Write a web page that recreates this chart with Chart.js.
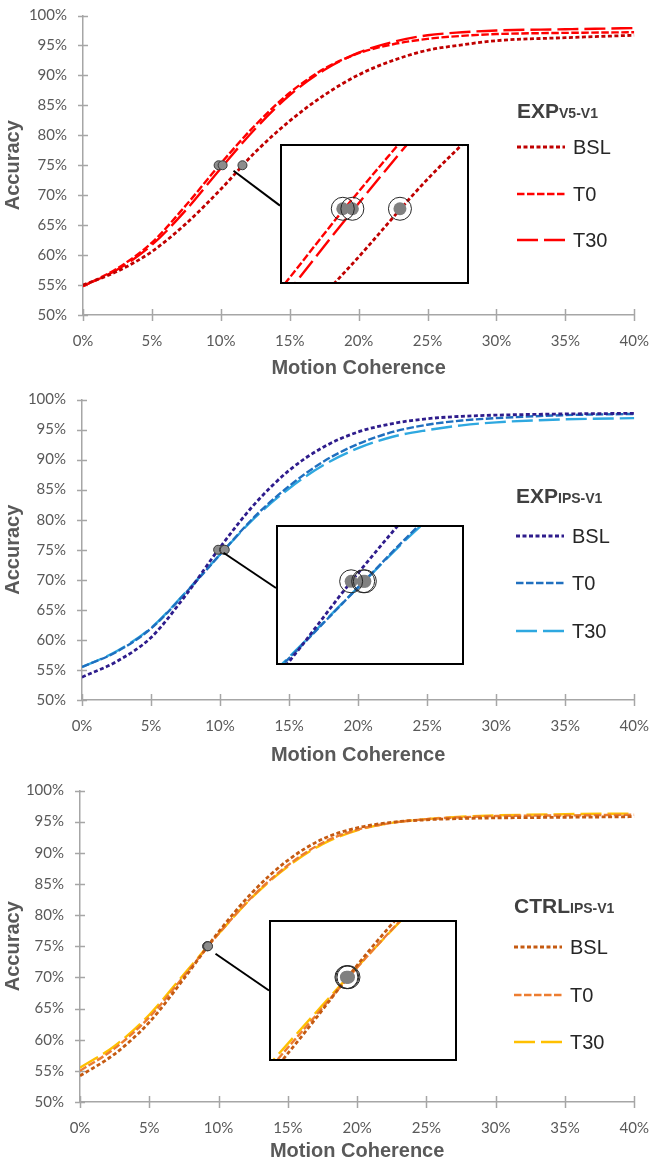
<!DOCTYPE html>
<html>
<head>
<meta charset="utf-8">
<script src="https://cdn.jsdelivr.net/npm/chart.js@4.4.1/dist/chart.umd.min.js"></script>
<style>
  html, body { margin: 0; padding: 0; background: #fff; }
  #page { position: relative; width: 660px; height: 1161px; overflow: hidden; }
  .inset { position: absolute; border: 2px solid #000; box-sizing: border-box; background: #fff; }
  canvas { position: absolute; display: block; }
</style>
</head>
<body>
<div id="page"></div>
<script>
const coherence = [0, 2.5, 5, 7.5, 10, 12.5, 15, 17.5, 20, 22.5, 25, 27.5, 30, 35, 40];
const xTickValues = [0, 5, 10, 15, 20, 25, 30, 35, 40];
const yTickValues = [50, 55, 60, 65, 70, 75, 80, 85, 90, 95, 100];
const seriesLabels = ['BSL', 'T0', 'T30'];
const thresholdLevel = 75;

// EXP V5-V1 (accuracy, %)
const v5Bsl = [55.0, 57.3, 60.6, 65.3, 71.0, 77.2, 82.4, 86.7, 90.1, 92.5, 94.2, 95.1, 95.8, 96.3, 96.7];
const v5T0 = [54.8, 57.8, 62.1, 68.4, 75.3, 81.7, 87.1, 91.1, 93.7, 95.2, 96.1, 96.6, 96.9, 97.1, 97.2];
const v5T30 = [54.8, 57.6, 61.7, 67.6, 74.5, 81.1, 86.7, 90.9, 93.8, 95.6, 96.7, 97.2, 97.5, 97.7, 97.9];
const v5Thresholds = [11.57, 9.84, 10.13]; // BSL, T0, T30 at 75%

// EXP IPS-V1
const ipsBsl = [53.8, 56.4, 60.4, 67.4, 75.4, 82.6, 88.2, 92.1, 94.6, 96.0, 96.8, 97.2, 97.4, 97.6, 97.7];
const ipsT0 = [55.5, 58.0, 61.9, 67.8, 74.2, 80.5, 85.6, 89.7, 92.6, 94.6, 95.8, 96.5, 96.9, 97.4, 97.6];
const ipsT30 = [55.5, 58.1, 62.0, 67.9, 74.2, 80.3, 85.2, 89.1, 91.9, 93.8, 94.9, 95.7, 96.2, 96.7, 96.9];
const ipsThresholds = [9.86, 10.28, 10.34];

// CTRL IPS-V1
const ctrlBsl = [54.2, 57.7, 62.8, 69.8, 77.3, 83.8, 88.8, 92.2, 94.0, 94.9, 95.3, 95.5, 95.6, 95.7, 95.8];
const ctrlT0 = [55.0, 58.6, 63.6, 70.2, 77.0, 83.1, 88.0, 91.6, 93.7, 94.8, 95.4, 95.7, 95.9, 96.0, 96.1];
const ctrlT30 = [55.5, 59.0, 64.0, 70.5, 77.0, 83.0, 87.8, 91.4, 93.6, 94.8, 95.4, 95.8, 96.0, 96.2, 96.3];
const ctrlThresholds = [9.17, 9.2, 9.24];

const DASHES = [[4, 2.5], [7.5, 2.5], [21, 6]];
const AXIS_GREY = '#a6a6a6';
const TEXT_GREY = '#595959';

const PANELS = [
  {
    title: 'EXP', sub: 'V5-V1',
    series: [v5Bsl, v5T0, v5T30], thresholds: v5Thresholds,
    colors: ['#c00000', '#ff0000', '#ff0000'],
    top: 0, height: 387, area: { top: 7.5, left: 83, right: 640, bottom: 315 },
    xTitlePad: 9, xTickPad: 11,
    legend: { x: 517, titleY: 118, rows: [147, 194, 240] },
    inset: { left: 280, top: 144, width: 189, height: 140, x: [8.0, 13.6], y: [70.1, 79.2] },
    link: { at: [10.92, 74.07], edge: 0.44 },
  },
  {
    title: 'EXP', sub: 'IPS-V1',
    series: [ipsBsl, ipsT0, ipsT30], thresholds: ipsThresholds,
    colors: ['#2e1c8c', '#1f6fbf', '#2ea8e0'],
    top: 384, height: 391, area: { top: 8, left: 82, right: 640, bottom: 316 },
    xTitlePad: 10, xTickPad: 11,
    legend: { x: 516, titleY: 119, rows: [152, 199, 247] },
    inset: { left: 276, top: 525, width: 188, height: 140, x: [7.3, 13.74], y: [67.85, 79.75] },
    link: { at: [10.25, 74.5], edge: 0.45 },
  },
  {
    title: 'CTRL', sub: 'IPS-V1',
    series: [ctrlBsl, ctrlT0, ctrlT30], thresholds: ctrlThresholds,
    colors: ['#c55a11', '#ed7d31', '#ffc000'],
    top: 775, height: 386, area: { top: 12, left: 80, right: 636, bottom: 327 },
    xTitlePad: 0, xTickPad: 11,
    legend: { x: 514, titleY: 138, rows: [172, 220, 267] },
    inset: { left: 269, top: 920, width: 188, height: 141, x: [6.6, 12.87], y: [68.4, 79.45] },
    link: { at: [9.78, 73.8], edge: 0.5 },
  },
];

Chart.defaults.font.family = 'Lato';

// tick marks crossing the axis line, like the original
const crossTicks = {
  id: 'crossTicks',
  beforeDatasetsDraw(chart) {
    const { ctx, chartArea, scales: { x, y } } = chart;
    ctx.save();
    ctx.strokeStyle = AXIS_GREY;
    ctx.lineWidth = 1.5;
    ctx.beginPath();
    y.ticks.forEach((t) => {
      const py = Math.round(y.getPixelForValue(t.value)) + 0.5;
      ctx.moveTo(chartArea.left - 5, py);
      ctx.lineTo(chartArea.left + 5, py);
    });
    x.ticks.forEach((t) => {
      const px = Math.round(x.getPixelForValue(t.value)) + 0.5;
      ctx.moveTo(px, chartArea.bottom - 6);
      ctx.lineTo(px, chartArea.bottom + 6);
    });
    ctx.stroke();
    ctx.restore();
  },
};

// legend drawn inside the plot, to the right of the inset
const sideLegend = {
  id: 'sideLegend',
  afterDraw(chart, args, opts) {
    const { ctx } = chart;
    ctx.save();
    ctx.fillStyle = '#404040';
    ctx.textBaseline = 'alphabetic';
    ctx.font = 'bold 21px "Liberation Sans", Arial, sans-serif';
    ctx.fillText(opts.title, opts.x, opts.titleY);
    const w = ctx.measureText(opts.title).width;
    ctx.font = 'bold 14px "Liberation Sans", Arial, sans-serif';
    ctx.fillText(opts.sub, opts.x + w, opts.titleY);

    chart.data.datasets.slice(0, 3).forEach((ds, i) => {
      const y = opts.rows[i];
      ctx.beginPath();
      ctx.setLineDash(ds.borderDash);
      ctx.strokeStyle = ds.borderColor;
      ctx.lineWidth = ds.borderWidth;
      ctx.moveTo(opts.x, y);
      ctx.lineTo(opts.x + 48, y);
      ctx.stroke();
      ctx.setLineDash([]);
      ctx.fillStyle = '#262626';
      ctx.font = '20px "Liberation Sans", Arial, sans-serif';
      ctx.textBaseline = 'middle';
      ctx.fillText(ds.label, opts.x + 56, y + 1);
    });
    ctx.restore();
  },
};

// black line from the threshold points to the zoomed inset
const insetLink = {
  id: 'insetLink',
  afterDraw(chart, args, opts) {
    const { ctx, scales: { x, y } } = chart;
    ctx.save();
    ctx.strokeStyle = '#000';
    ctx.lineWidth = 2;
    ctx.beginPath();
    ctx.moveTo(x.getPixelForValue(opts.at[0]), y.getPixelForValue(opts.at[1]));
    ctx.lineTo(opts.toX, opts.toY);
    ctx.stroke();
    ctx.restore();
  },
};

function lineDatasets(panel) {
  return panel.series.map((vals, i) => ({
    label: seriesLabels[i],
    data: coherence.map((x, k) => ({ x, y: vals[k] })),
    borderColor: panel.colors[i],
    borderWidth: i === 0 ? 2.8 : 2.4,
    borderDash: DASHES[i],
    borderCapStyle: 'butt',
    pointRadius: 0,
    cubicInterpolationMode: 'monotone',
    fill: false,
    order: 2,
  }));
}

function thresholdData(panel) {
  return panel.thresholds.map((x) => ({ x, y: thresholdLevel }));
}

function makeCanvas(parent, left, top, w, h) {
  const c = document.createElement('canvas');
  c.width = w;
  c.height = h;
  c.style.left = left + 'px';
  c.style.top = top + 'px';
  c.style.width = w + 'px';
  c.style.height = h + 'px';
  parent.appendChild(c);
  return c;
}

function buildMain(panel) {
  const page = document.getElementById('page');
  const canvas = makeCanvas(page, 0, panel.top, 660, panel.height);
  const a = panel.area;
  const tickFont = { family: 'Lato', size: 15, lineHeight: 1 };
  const titleFont = { family: '"Liberation Sans", Arial, sans-serif', size: 20, weight: 'bold', lineHeight: 1 };

  const datasets = lineDatasets(panel);
  datasets.push({
    label: 'threshold',
    data: thresholdData(panel),
    showLine: false,
    pointRadius: 4.5,
    pointBackgroundColor: '#8c8c8c',
    pointBorderColor: '#3a3a3a',
    pointBorderWidth: 1,
    order: 0,
  });

  return new Chart(canvas, {
    type: 'line',
    data: { datasets },
    options: {
      responsive: false,
      animation: false,
      events: [],
      layout: { autoPadding: false, padding: { top: a.top, right: 660 - a.right, left: 0, bottom: 0 } },
      plugins: {
        legend: { display: false },
        tooltip: { enabled: false },
        sideLegend: { title: panel.title, sub: panel.sub, ...panel.legend },
        insetLink: {
          at: panel.link.at,
          toX: panel.inset.left,
          toY: panel.inset.top - panel.top + panel.link.edge * panel.inset.height,
        },
      },
      scales: {
        x: {
          type: 'linear',
          min: 0,
          max: 40,
          afterBuildTicks: (s) => { s.ticks = xTickValues.map((v) => ({ value: v })); },
          afterFit: (s) => { s.height = panel.height - a.bottom; },
          grid: { drawOnChartArea: false, drawTicks: true, tickLength: 8, color: 'rgba(0,0,0,0)' },
          border: { color: AXIS_GREY, width: 1.5 },
          ticks: { color: TEXT_GREY, font: tickFont, padding: panel.xTickPad, maxRotation: 0, callback: (v) => v + '%' },
          title: { display: true, text: 'Motion Coherence', color: TEXT_GREY, font: titleFont, padding: { top: 0, bottom: panel.xTitlePad } },
        },
        y: {
          type: 'linear',
          min: 50,
          max: 100,
          afterBuildTicks: (s) => { s.ticks = yTickValues.map((v) => ({ value: v })); },
          afterFit: (s) => { s.width = a.left; },
          grid: { drawOnChartArea: false, drawTicks: true, tickLength: 8, color: 'rgba(0,0,0,0)' },
          border: { color: AXIS_GREY, width: 1.5 },
          ticks: { color: TEXT_GREY, font: tickFont, padding: 8, callback: (v) => v + '%' },
          title: { display: true, text: 'Accuracy', color: TEXT_GREY, font: titleFont, padding: { top: 3, bottom: 0 } },
        },
      },
    },
    plugins: [crossTicks, sideLegend, insetLink],
  });
}

function buildInset(panel) {
  const page = document.getElementById('page');
  const box = document.createElement('div');
  const ins = panel.inset;
  box.className = 'inset';
  box.style.left = ins.left + 'px';
  box.style.top = ins.top + 'px';
  box.style.width = ins.width + 'px';
  box.style.height = ins.height + 'px';
  page.appendChild(box);
  const canvas = makeCanvas(box, 0, 0, ins.width - 4, ins.height - 4);

  const datasets = lineDatasets(panel);
  datasets.push({
    label: 'dot',
    data: thresholdData(panel),
    showLine: false,
    pointRadius: 6.5,
    pointBackgroundColor: '#808080',
    pointBorderWidth: 0,
    order: 1,
  });
  datasets.push({
    label: 'ring',
    data: thresholdData(panel),
    showLine: false,
    pointRadius: 11.5,
    pointBackgroundColor: 'rgba(0,0,0,0)',
    pointBorderColor: '#262626',
    pointBorderWidth: 1,
    order: 0,
  });

  return new Chart(canvas, {
    type: 'line',
    data: { datasets },
    options: {
      responsive: false,
      animation: false,
      events: [],
      layout: { autoPadding: false, padding: 0 },
      plugins: { legend: { display: false }, tooltip: { enabled: false } },
      scales: {
        x: { type: 'linear', display: false, min: ins.x[0], max: ins.x[1] },
        y: { type: 'linear', display: false, min: ins.y[0], max: ins.y[1] },
      },
    },
  });
}

PANELS.forEach((p) => {
  buildMain(p);
  buildInset(p);
});
</script>
</body>
</html>
